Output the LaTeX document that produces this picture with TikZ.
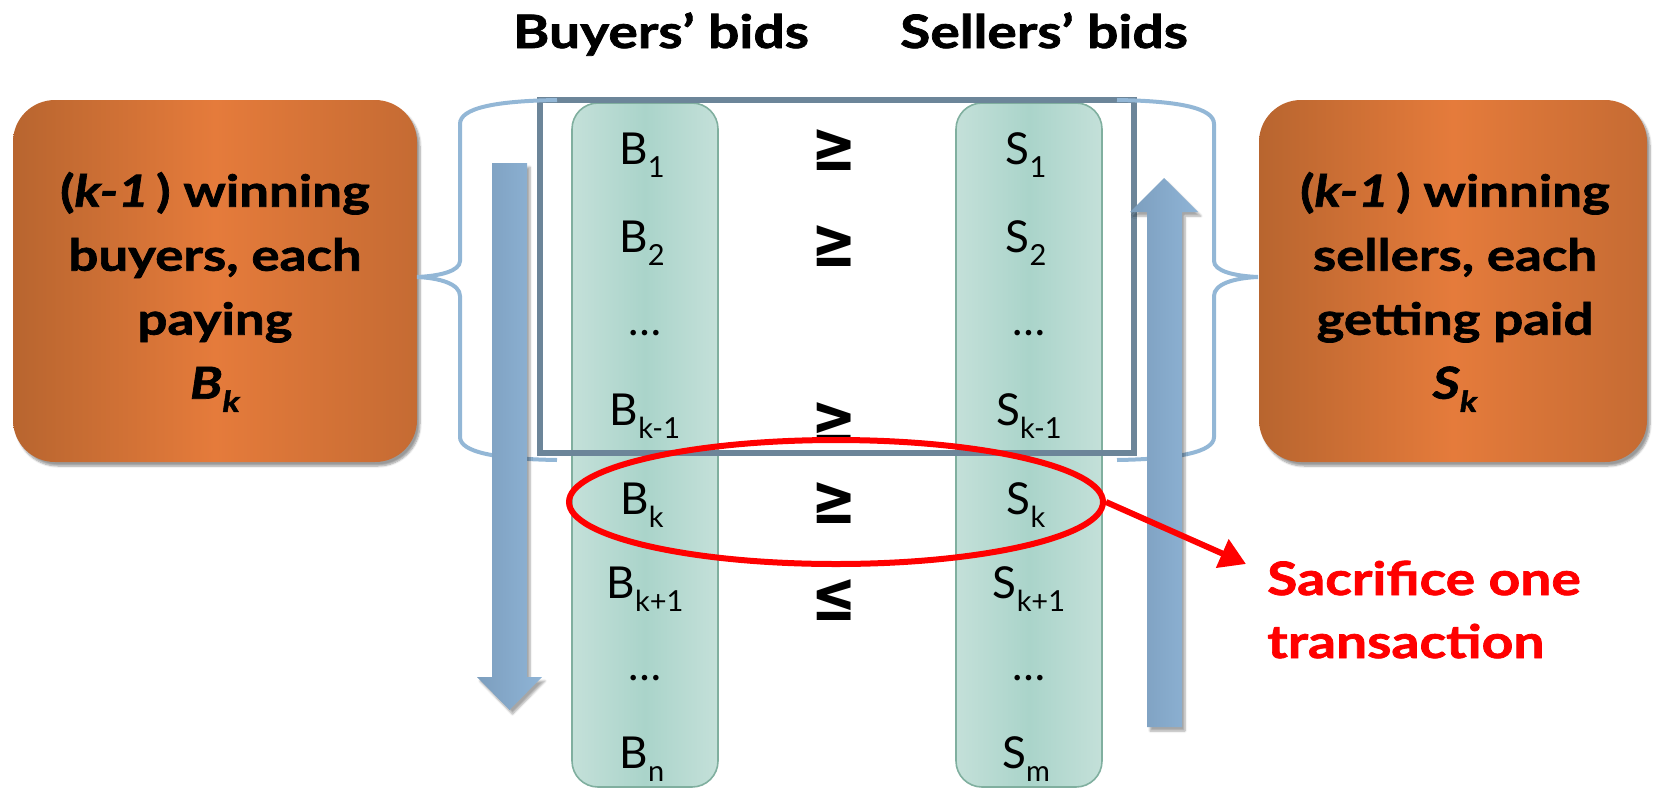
\documentclass[tikz,border=0pt]{standalone}
\usepackage{fontspec}
\setmainfont{Lato}[
  BoldFeatures={FakeStretch=1.2, FakeBold=1.6},
  BoldItalicFeatures={FakeStretch=1.2, FakeBold=1.6}]
\newfontfamily\symfont{DejaVu Sans}
\usetikzlibrary{shadows.blur,arrows.meta,shapes.geometric}

\definecolor{orangeEdge}{HTML}{B8652F}
\definecolor{orangeMid}{HTML}{E57B3B}
\definecolor{orangeEdgeR}{HTML}{C56B33}
\definecolor{tealEdge}{HTML}{C4E0D9}
\definecolor{tealMid}{HTML}{AAD4CA}
\definecolor{tealLine}{HTML}{80AF9F}
\definecolor{slate}{HTML}{6C8599}
\definecolor{braceBlue}{HTML}{93B7D6}
\definecolor{arrowDark}{HTML}{7C9EBE}
\definecolor{arrowLight}{HTML}{8FB4D6}
\definecolor{alertRed}{HTML}{FF0000}

% subscript used in the bid labels
\newcommand\bidsub[1]{\raisebox{-0.3em}{\fontsize{29}{29}\selectfont #1}}

\tikzset{
  paybox/.style={rounded corners=42pt, left color=orangeEdge, right color=orangeEdgeR,
    middle color=orangeMid, inner sep=0pt,
    blur shadow={shadow xshift=3pt, shadow yshift=-4pt, shadow blur steps=6, shadow opacity=40}},
  paytext/.style={text=black, align=center, inner sep=0pt,
    font=\fontsize{44}{64}\selectfont\bfseries},
  bidcol/.style={rounded corners=26pt, draw=tealLine, line width=1.6pt,
    left color=tealEdge, right color=tealEdge, middle color=tealMid,
    minimum width=146pt, minimum height=684pt, inner sep=0pt},
  bidlab/.style={anchor=base, font=\fontsize{44}{44}\selectfont, text=black, inner sep=0pt},
  heading/.style={anchor=base, font=\fontsize{46}{46}\selectfont\bfseries, inner sep=0pt},
  relsym/.style={font=\symfont\bfseries\fontsize{54}{54}\selectfont, inner sep=0pt},
  bracket/.style={draw=braceBlue, line width=4pt},
  flowarrow/.style={left color=arrowDark, right color=arrowLight,
    blur shadow={shadow xshift=3pt, shadow yshift=-4pt, shadow blur steps=6, shadow opacity=35}},
}

\begin{document}
\begin{tikzpicture}[x=1pt,y=-1pt]
\useasboundingbox (0,0) rectangle (1656,790);

% headings
\node[heading] (hbuy) at (661,48) {Buyers’ bids};
\node[heading] (hsell) at (1044,48) {Sellers’ bids};

% payment boxes
\node[paybox, minimum width=404pt, minimum height=362pt] (lbox) at (215,281) {};
\node[paytext] (ltext) at (215,292)
  {(\textit{k-1}\,) winning\\buyers, each\\paying\\\textit{B\bidsub{k}}};
\node[paybox, minimum width=388pt, minimum height=362pt] (rbox) at (1453,281) {};
\node[paytext] (rtext) at (1455,292)
  {(\textit{k-1}\,) winning\\sellers, each\\getting paid\\\textit{S\bidsub{k}}};

% bid columns
\node[bidcol] (lcol) at (645,445) {};
\node[bidcol] (rcol) at (1029,445) {};

% frame around the k-1 winning pairs
\node[draw=slate, line width=5.5pt, minimum width=594pt, minimum height=353pt, inner sep=0pt] (win) at (837,276.5) {};

% curly brackets
\draw[bracket] (557,100) .. controls (495,101) and (460,108) .. (460,124)
  -- (460,261) .. controls (460,271) and (440,276) .. (417,277)
  .. controls (440,278) and (460,284) .. (460,296)
  -- (460,437) .. controls (460,452) and (495,459) .. (557,460);
\draw[bracket] (1117,100) .. controls (1179,101) and (1214,108) .. (1214,124)
  -- (1214,261) .. controls (1214,271) and (1234,276) .. (1258,277)
  .. controls (1234,278) and (1214,284) .. (1214,296)
  -- (1214,437) .. controls (1214,452) and (1179,459) .. (1117,460);

% buyers' bids
\node[bidlab] (b1) at (642,164) {B\bidsub{1}};
\node[bidlab] (b2) at (642,252) {B\bidsub{2}};
\node[bidlab] (b3) at (645,335) {\dots};
\node[bidlab] (b4) at (645,425) {B\bidsub{k-1}};
\node[bidlab] (b5) at (642,514) {B\bidsub{k}};
\node[bidlab] (b6) at (645,598) {B\bidsub{k+1}};
\node[bidlab] (b7) at (645,680) {\dots};
\node[bidlab] (b8) at (642,768) {B\bidsub{n}};

% sellers' bids
\node[bidlab] (s1) at (1026,164) {S\bidsub{1}};
\node[bidlab] (s2) at (1026,252) {S\bidsub{2}};
\node[bidlab] (s3) at (1029,335) {\dots};
\node[bidlab] (s4) at (1029,425) {S\bidsub{k-1}};
\node[bidlab] (s5) at (1026,514) {S\bidsub{k}};
\node[bidlab] (s6) at (1029,598) {S\bidsub{k+1}};
\node[bidlab] (s7) at (1029,680) {\dots};
\node[bidlab] (s8) at (1026,768) {S\bidsub{m}};

% ordering arrows
\path[flowarrow] (492,163) -- (527,163) -- (527,677) -- (542,677) -- (509.5,710)
  -- (477,677) -- (492,677) -- cycle;
\path[flowarrow] (1147,727) -- (1182,727) -- (1182,212) -- (1198,212) -- (1164,178)
  -- (1130,212) -- (1147,212) -- cycle;

% relations between the two columns
\node[relsym] (r1) at (834,150) {\scalebox{1}[1.3]{≥}};
\node[relsym] (r2) at (834,246) {\scalebox{1}[1.3]{≥}};
\node[relsym] (r4) at (834,423) {\scalebox{1}[1.3]{≥}};
\node[relsym] (r5) at (834,503) {\scalebox{1}[1.3]{≥}};
\node[relsym] (r6) at (834,600) {\scalebox{1}[1.3]{≤}};

% the sacrificed pair
\node[draw=alertRed, line width=6pt, ellipse, minimum width=534pt, minimum height=124pt, inner sep=0pt] (sac) at (836,502) {};
\node[anchor=base west, align=left, text=alertRed, inner sep=0pt,
  font=\fontsize{46}{63}\selectfont\bfseries] (note) at (1267,658) {Sacrifice one\\transaction};
\coordinate (notetip) at (1246,564);
\draw[alertRed, line width=6pt, -{Triangle[length=26pt,width=30pt]}] (sac.east) -- (notetip);
\end{tikzpicture}
\end{document}
